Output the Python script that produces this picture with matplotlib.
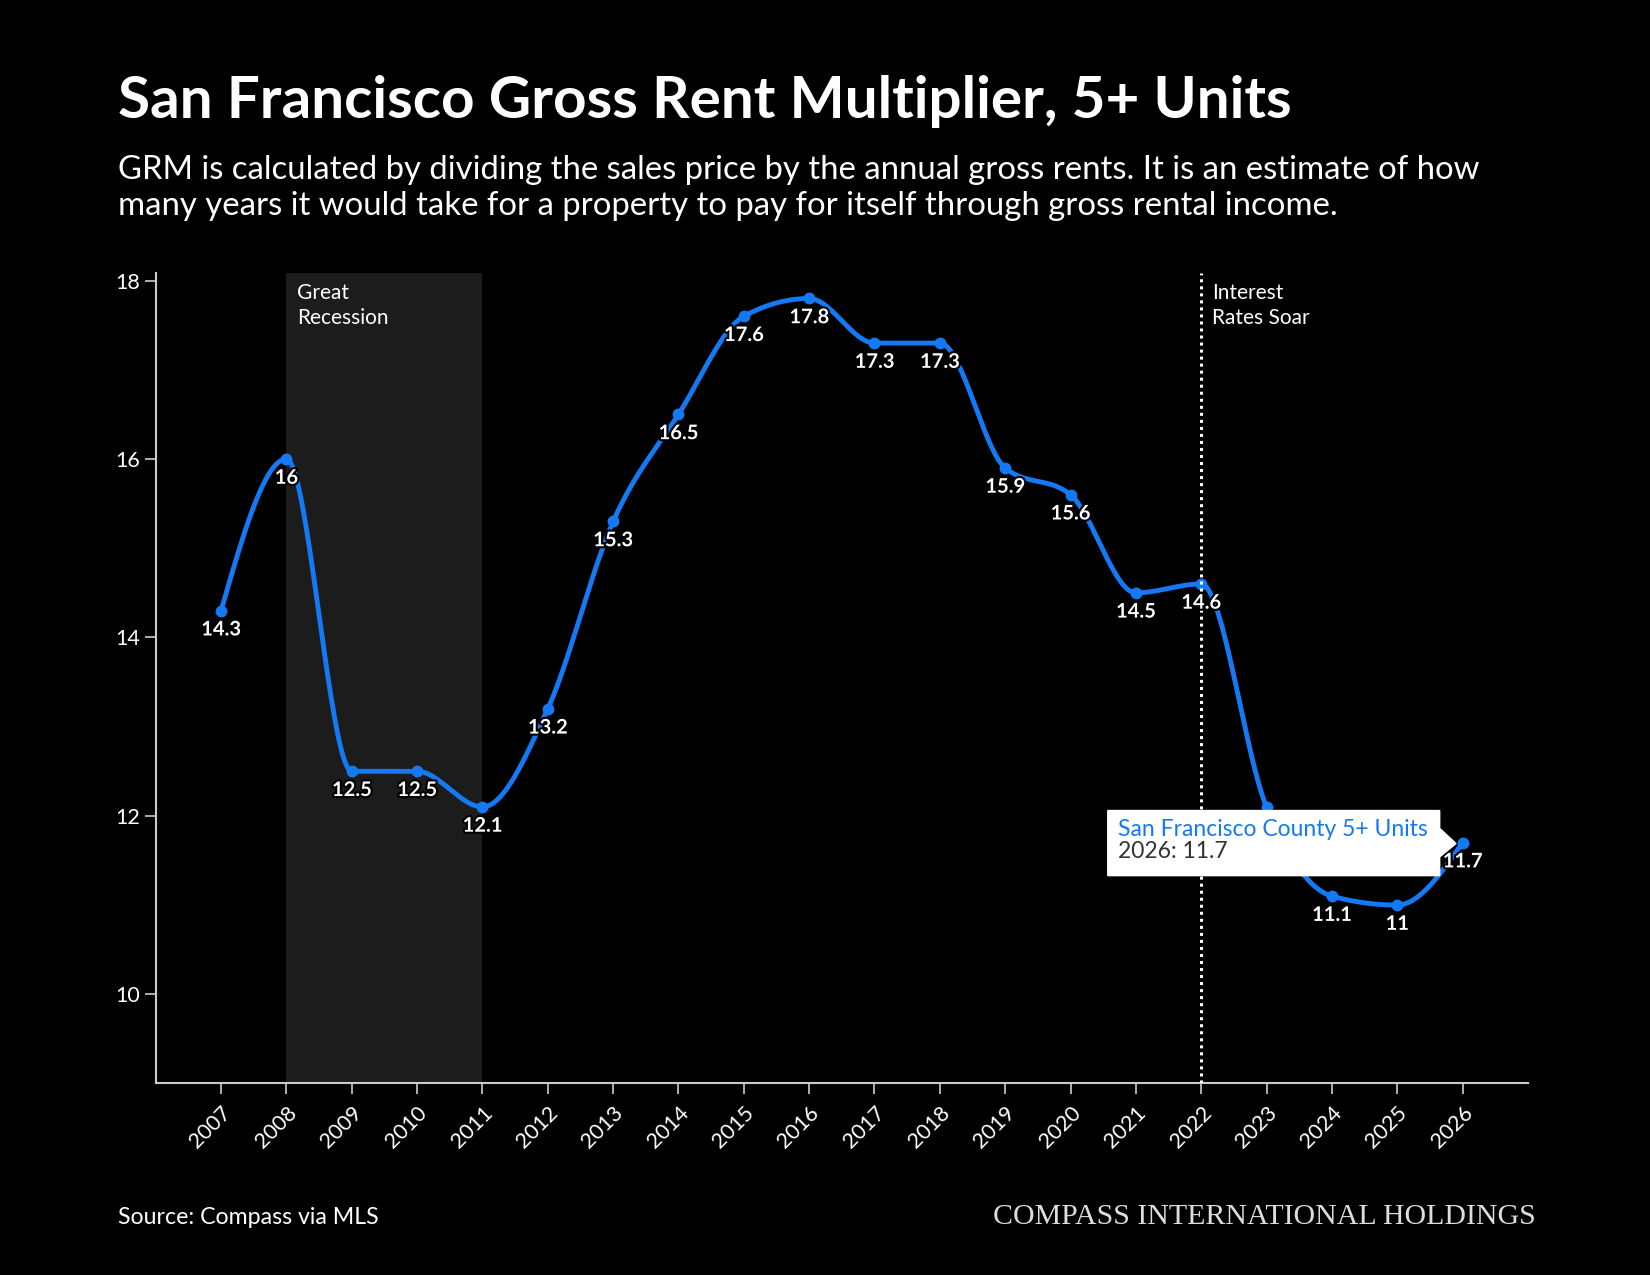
import numpy as np
import matplotlib
matplotlib.use("Agg")
import matplotlib.pyplot as plt
from matplotlib.patches import Polygon
import matplotlib.patheffects as pe

# ---------------- data ----------------
years = list(range(2007, 2027))
grm = [14.3, 16.0, 12.5, 12.5, 12.1, 13.2, 15.3, 16.5, 17.6, 17.8,
       17.3, 17.3, 15.9, 15.6, 14.5, 14.6, 12.1, 11.1, 11.0, 11.7]
y_ticks = [10, 12, 14, 16, 18]
recession = (2008, 2011)
rates_year = 2022
tooltip_year = 2026
series_name = "San Francisco County 5+ Units"

title = "San Francisco Gross Rent Multiplier, 5+ Units"
subtitle1 = "GRM is calculated by dividing the sales price by the annual gross rents. It is an estimate of how"
subtitle2 = "many years it would take for a property to pay for itself through gross rental income."
source = "Source: Compass via MLS"
brand = "COMPASS INTERNATIONAL HOLDINGS"

BLUE = "#1479f5"
SANS = "Lato"


def monotone_curve(x, y, n=40):
    """Monotone cubic (d3 curveMonotoneX style) path through the points."""
    x = np.asarray(x, float)
    y = np.asarray(y, float)
    h = np.diff(x)
    s = np.diff(y) / h
    m = np.zeros_like(y)
    for i in range(1, len(y) - 1):
        s0, s1 = s[i - 1], s[i]
        p = (s0 * h[i] + s1 * h[i - 1]) / (h[i - 1] + h[i])
        m[i] = (np.sign(s0) + np.sign(s1)) * min(abs(s0), abs(s1), 0.5 * abs(p))
    m[0] = (3 * s[0] - m[1]) / 2
    m[-1] = (3 * s[-1] - m[-2]) / 2
    xs, ys = [], []
    t = np.linspace(0, 1, n)
    h00 = 2 * t**3 - 3 * t**2 + 1
    h10 = t**3 - 2 * t**2 + t
    h01 = -2 * t**3 + 3 * t**2
    h11 = t**3 - t**2
    for i in range(len(y) - 1):
        xs.append(x[i] + t * h[i])
        ys.append(h00 * y[i] + h10 * h[i] * m[i] + h01 * y[i + 1] + h11 * h[i] * m[i + 1])
    return np.concatenate(xs), np.concatenate(ys)


fig = plt.figure(figsize=(16.5, 12.75), dpi=100, facecolor="black")
ax = fig.add_axes([0.0944, 0.1502, 0.8316, 0.6353], facecolor="black")

ax.set_xlim(2006, 2027)
ax.set_ylim(9, 18.08)

# recession band
ax.axvspan(recession[0], recession[1], color="#1c1c1c", zorder=0, lw=0)
ax.text(recession[0] + 0.16, 17.97, "Great\nRecession", color="white",
        fontsize=15, family=SANS, va="top", ha="left", linespacing=1.3, zorder=2)

# interest rates line
ax.axvline(rates_year, color="white", lw=2.2, ls=(0, (1, 1.3)), zorder=4)
ax.text(rates_year + 0.16, 17.97, "Interest\nRates Soar", color="white",
        fontsize=15, family=SANS, va="top", ha="left", linespacing=1.3, zorder=2)

# tooltip geometry (anchored to the tooltip point)
ti = years.index(tooltip_year)
tv = grm[ti]
bx0, bx1 = tooltip_year - 5.43, tooltip_year - 0.35
by0, by1 = tv - 0.37, tv + 0.36

# series
cx, cy = monotone_curve(years, grm)
ax.plot(cx, cy, color=BLUE, lw=3.5, zorder=3, solid_capstyle="round")
ax.plot(years, grm, "o", color=BLUE, ms=7.5, zorder=3)

for x, v in zip(years, grm):
    # labels sitting beneath the tooltip box are hidden by it
    if bx0 < x < bx1 and by0 < v - 0.2 < by1:
        continue
    ax.annotate(f"{v:g}", (x, v), xytext=(0, -13.5), textcoords="offset points",
                ha="center", va="center", color="white", fontsize=14.5,
                family=SANS, fontweight="bold", zorder=5,
                path_effects=[pe.withStroke(linewidth=3, foreground="black")])

# tooltip
tip = (tooltip_year - 0.10, tv - 0.01)
poly = [(bx0, by0), (bx1, by0), (bx1, tv - 0.16), tip, (bx1, tv + 0.16),
        (bx1, by1), (bx0, by1)]
ax.add_patch(Polygon(poly, closed=True, facecolor="white", edgecolor="white",
                     lw=1, zorder=6))
ax.text(bx0 + 0.16, tv + 0.15, series_name, color=BLUE, fontsize=16.5,
        family=SANS, va="center", ha="left", zorder=7)
ax.text(bx0 + 0.16, tv - 0.10, f"{tooltip_year}: {tv:g}", color="#333333",
        fontsize=16.5, family=SANS, va="center", ha="left", zorder=7)

# axes styling
for side in ["top", "right"]:
    ax.spines[side].set_visible(False)
for side in ["left", "bottom"]:
    ax.spines[side].set_color("#cccccc")
    ax.spines[side].set_linewidth(1.5)
ax.set_yticks(y_ticks)
ax.set_yticklabels([str(t) for t in y_ticks])
ax.set_xticks(years)
ax.set_xticklabels([str(y) for y in years], rotation=45, ha="right",
                   rotation_mode="anchor")
ax.tick_params(axis="both", colors="#cccccc", labelcolor="white", labelsize=15.5,
               length=8, width=1.2)
ax.tick_params(axis="x", pad=6)
for lab in ax.get_xticklabels() + ax.get_yticklabels():
    lab.set_family(SANS)

# titles
fig.text(0.0714, 0.9076, title, color="white", fontsize=42, family=SANS,
         fontweight="bold", ha="left", va="baseline")
fig.text(0.0714, 0.8597, subtitle1, color="white", fontsize=23.7, family=SANS,
         ha="left", va="baseline")
fig.text(0.0714, 0.8317, subtitle2, color="white", fontsize=23.7, family=SANS,
         ha="left", va="baseline")

# footer
fig.text(0.0714, 0.0454, source, color="white", fontsize=16.7, family=SANS,
         ha="left", va="center")
fig.text(0.931, 0.0454, brand, color="#dddddd", fontsize=21.5,
         family="Liberation Serif", ha="right", va="center")

fig.savefig("out.png", dpi=100, facecolor="black")
